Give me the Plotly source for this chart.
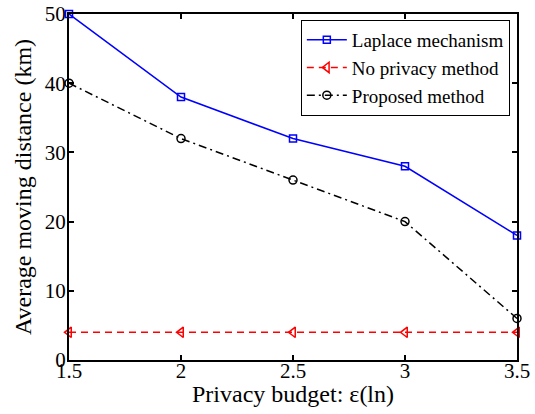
import plotly.graph_objects as go

x = [1.5, 2, 2.5, 3, 3.5]
laplace = [50, 38, 32, 28, 18]
no_privacy = [4, 4, 4, 4, 4]
proposed = [40, 32, 26, 20, 6]
xticks = [1.5, 2, 2.5, 3, 3.5]
xtick_labels = ["1.5", "2", "2.5", "3", "3.5"]
yticks = [0, 10, 20, 30, 40, 50]

FONT = "Times New Roman, Liberation Serif, serif"

fig = go.Figure()
fig.add_trace(go.Scatter(x=x, y=laplace, name="Laplace mechanism", mode="lines+markers",
                         line=dict(color="#0000ff", width=1.5),
                         marker=dict(symbol="square-open", size=7, color="#0000ff", line=dict(width=1.5)),
                         cliponaxis=False))
fig.add_trace(go.Scatter(x=x, y=no_privacy, name="No privacy method", mode="lines+markers",
                         line=dict(color="#ff0000", width=1.5, dash="7px,5px"),
                         marker=dict(symbol="triangle-left-open", size=9, color="#ff0000", line=dict(width=1.5)),
                         cliponaxis=False))
fig.add_trace(go.Scatter(x=x, y=proposed, name="Proposed method", mode="lines+markers",
                         line=dict(color="#000000", width=1.5, dash="8px,4px,2px,4px"),
                         marker=dict(symbol="circle-open", size=8, color="#000000", line=dict(width=1.5)),
                         cliponaxis=False))

axis_common = dict(showline=True, linecolor="black", linewidth=2, mirror="ticks",
                   ticks="inside", ticklen=5, tickwidth=1.5, tickcolor="black",
                   showgrid=False, zeroline=False, automargin=False,
                   tickfont=dict(family=FONT, size=21, color="black"))

fig.update_layout(
    width=535, height=414,
    margin=dict(l=69, r=18, t=14, b=54),
    paper_bgcolor="white", plot_bgcolor="white",
    font=dict(family=FONT, color="black"),
    xaxis=dict(range=[1.5, 3.5], tickvals=xticks, ticktext=xtick_labels,
               ticklabelstandoff=-9,
               **axis_common),
    yaxis=dict(range=[0, 50], tickvals=yticks,
               title=dict(text="Average moving distance (km)", font=dict(family=FONT, size=24), standoff=6),
               ticklabelstandoff=-3,
               **axis_common),
    legend=dict(x=0.984, y=0.983, xanchor="right", yanchor="top",
                bgcolor="white", bordercolor="black", borderwidth=1,
                font=dict(family=FONT, size=19, color="black"),
                tracegroupgap=0, itemwidth=40),
    showlegend=True,
    annotations=[dict(text="Privacy budget: ε(ln)", xref="paper", yref="paper",
                      x=0.5, y=-0.097, xanchor="center", yanchor="middle",
                      showarrow=False, font=dict(family=FONT, size=24, color="black"))],
)

fig.write_html("out.html", config={"displayModeBar": False},
               post_script="document.body.style.margin='0';document.body.style.overflow='hidden';")
